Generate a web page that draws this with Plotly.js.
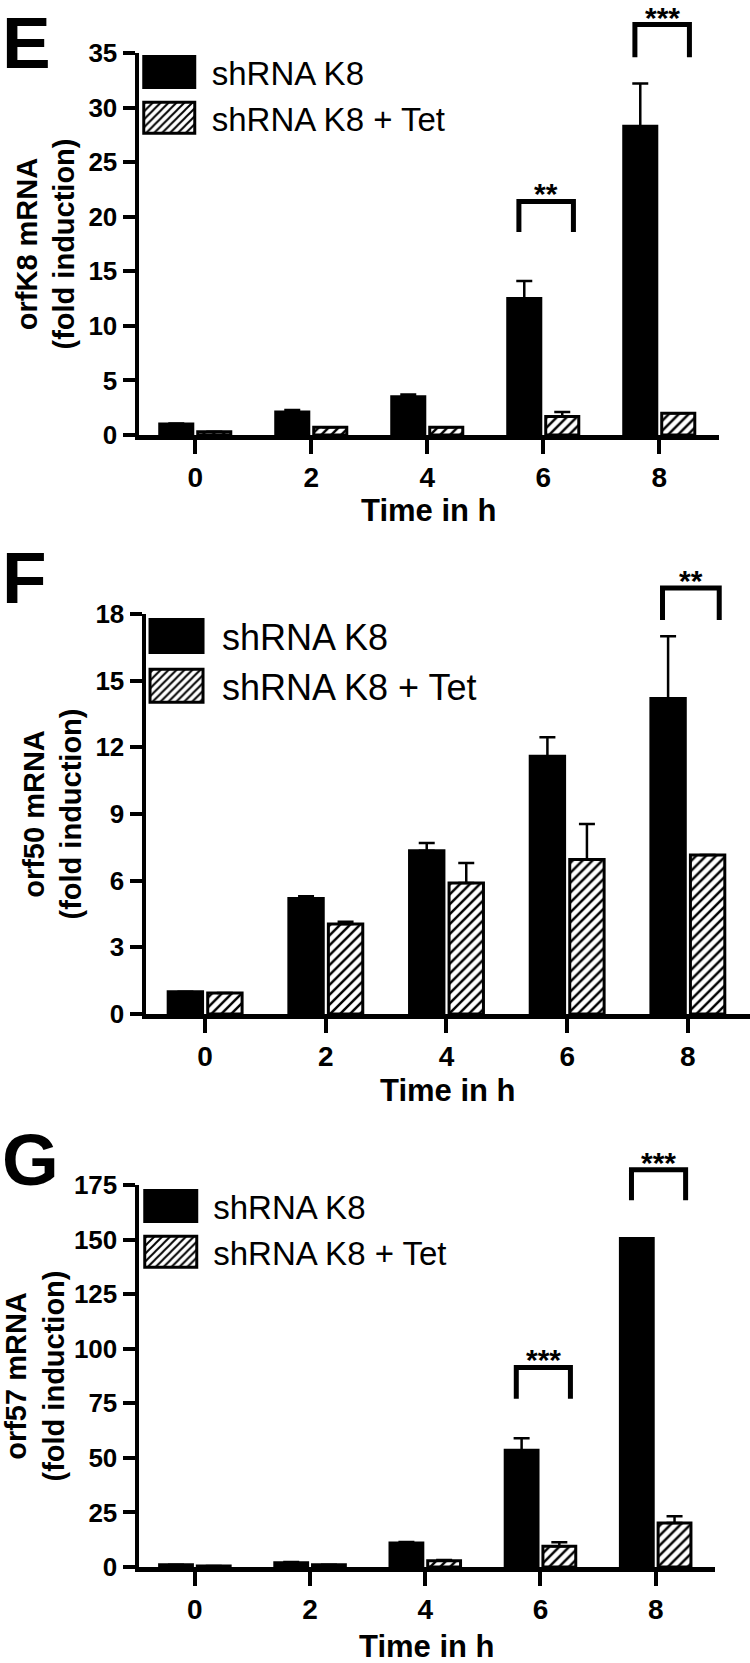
<!DOCTYPE html>
<html>
<head>
<meta charset="utf-8">
<script src="https://cdn.plot.ly/plotly-3.0.1.min.js"></script>
<style>html,body{margin:0;padding:0;background:#fff}#plot{width:750px;height:1663px}</style>
</head>
<body>
<div id="plot"></div>
<script>
// ---- data ----
var hours = [0, 2, 4, 6, 8];
var seriesNames = ['shRNA K8', 'shRNA K8 + Tet'];

// Panel E: orfK8 mRNA
var orfK8_ctrl = [1.0, 2.1, 3.5, 12.5, 28.3];
var orfK8_ctrl_err = [0.05, 0.2, 0.2, 1.6, 3.9];
var orfK8_tet = [0.3, 0.7, 0.7, 1.7, 2.0];
var orfK8_tet_err = [0, 0, 0, 0.4, 0];

// Panel F: orf50 mRNA
var orf50_ctrl = [1.0, 5.2, 7.35, 11.6, 14.2];
var orf50_ctrl_err = [0, 0.1, 0.35, 0.85, 2.8];
var orf50_tet = [0.95, 4.05, 5.9, 6.95, 7.15];
var orf50_tet_err = [0, 0.1, 0.9, 1.6, 0];

// Panel G: orf57 mRNA
var orf57_ctrl = [1.0, 2.0, 11.0, 53.5, 150.5];
var orf57_ctrl_err = [0, 0.3, 0.4, 5.5, 0];
var orf57_tet = [0.5, 1.0, 2.9, 9.5, 20.2];
var orf57_tet_err = [0, 0, 0.3, 1.8, 3.0];

// y-axis tick values
var yTicksE = [0, 5, 10, 15, 20, 25, 30, 35];
var yTicksF = [0, 3, 6, 9, 12, 15, 18];
var yTicksG = [0, 25, 50, 75, 100, 125, 150, 175];

// significance brackets (time point, bracket top, leg bottom, label)
var sigE_x = [6, 8], sigE_top = [21.4, 37.6], sigE_leg = [18.6, 34.6], sigE_lab = ['**', '***'];
var sigF_x = [8], sigF_top = [19.17], sigF_leg = [17.73], sigF_lab = ['**'];
var sigG_x = [6, 8], sigG_top = [91.4, 182], sigG_leg = [77.1, 168], sigG_lab = ['***', '***'];

// ---- styling ----
var FONT = 'Liberation Sans, Arial, Helvetica, sans-serif';
var hatch = {shape: '/', fgcolor: 'black', bgcolor: 'white', size: 7, solidity: 0.35};

function barPair(ctrl, ctrlErr, tet, tetErr, xa, ya, leg) {
  var zeros = hours.map(function () { return 0; });
  return [
    {type: 'bar', x: hours, y: ctrl, name: seriesNames[0], xaxis: xa, yaxis: ya, legend: leg,
     marker: {color: 'black', line: {color: 'black', width: 3}},
     error_y: {type: 'data', array: ctrlErr, arrayminus: zeros, symmetric: false, color: 'black', thickness: 2.5, width: 8}},
    {type: 'bar', x: hours, y: tet, name: seriesNames[1], xaxis: xa, yaxis: ya, legend: leg,
     marker: {color: 'white', line: {color: 'black', width: 3}, pattern: hatch},
     error_y: {type: 'data', array: tetErr, arrayminus: zeros, symmetric: false, color: 'black', thickness: 2.5, width: 8}}
  ];
}

var data = [].concat(
  barPair(orfK8_ctrl, orfK8_ctrl_err, orfK8_tet, orfK8_tet_err, 'x', 'y', 'legend'),
  barPair(orf50_ctrl, orf50_ctrl_err, orf50_tet, orf50_tet_err, 'x2', 'y2', 'legend2'),
  barPair(orf57_ctrl, orf57_ctrl_err, orf57_tet, orf57_tet_err, 'x3', 'y3', 'legend3')
);

function xAxis(domain, range, anchor) {
  return {domain: domain, range: range, anchor: anchor, tickvals: hours,
    showline: true, linecolor: 'black', linewidth: 4.5, ticks: 'outside', ticklen: 14, tickwidth: 4, tickcolor: 'black',
    showgrid: false, zeroline: false, fixedrange: true,
    tickfont: {family: FONT, size: 28, color: 'black', weight: 'bold'}};
}
function yAxis(domain, range, ticks, anchor, title) {
  return {domain: domain, range: range, anchor: anchor, tickvals: ticks,
    showline: true, linecolor: 'black', linewidth: 4.5, ticks: 'outside', ticklen: 12, tickwidth: 4, tickcolor: 'black',
    showgrid: false, zeroline: false, fixedrange: true,
    tickfont: {family: FONT, size: 26, color: 'black', weight: 'bold'},
    title: {text: title, font: {family: FONT, size: 29, color: 'black', weight: 'bold'}, standoff: 6}};
}

var shapes = [], annotations = [];
function addSig(xs, tops, legs, labs, xa, ya, yMax) {
  for (var i = 0; i < xs.length; i++) {
    var x0 = xs[i] - 0.42, x1 = xs[i] + 0.52;
    shapes.push({type: 'path', xref: xa, yref: ya + ' domain',
      path: 'M' + x0 + ',' + (legs[i] / yMax) + ' L' + x0 + ',' + (tops[i] / yMax) + ' L' + x1 + ',' + (tops[i] / yMax) + ' L' + x1 + ',' + (legs[i] / yMax),
      line: {color: 'black', width: 5}});
    annotations.push({xref: xa, yref: ya + ' domain', x: (x0 + x1) / 2, y: tops[i] / yMax, text: labs[i], showarrow: false,
      yanchor: 'bottom', yshift: -11, font: {family: FONT, size: 30, color: 'black', weight: 'bold'}});
  }
}
addSig(sigE_x, sigE_top, sigE_leg, sigE_lab, 'x', 'y', 35);
addSig(sigF_x, sigF_top, sigF_leg, sigF_lab, 'x2', 'y2', 18);
addSig(sigG_x, sigG_top, sigG_leg, sigG_lab, 'x3', 'y3', 175);

// x-axis titles
var xTitle = 'Time in h';
var xTitleAxes = ['x', 'x2', 'x3'], xTitleShift = [-56, -57, -60];
for (var j = 0; j < 3; j++) {
  var ax = xTitleAxes[j], yax = ax.replace('x', 'y');
  annotations.push({xref: ax + ' domain', yref: yax + ' domain', x: 0.5, y: 0, xanchor: 'center', yanchor: 'top',
    yshift: xTitleShift[j], text: xTitle, showarrow: false, font: {family: FONT, size: 31, color: 'black', weight: 'bold'}});
}

var panelLetters = ['E', 'F', 'G'];
var letterY = [1, 1 - 535 / 1663, 1 - 1117 / 1663];
for (var k = 0; k < 3; k++) {
  annotations.push({xref: 'paper', yref: 'paper', x: 0, y: letterY[k], xanchor: 'left', yanchor: 'top',
    text: panelLetters[k], showarrow: false, font: {family: FONT, size: 73, color: 'black', weight: 'bold'}});
}

function legendCfg(x, y, size, iw) {
  return {x: x, y: y, xanchor: 'left', yanchor: 'top', bgcolor: 'rgba(0,0,0,0)', borderwidth: 0,
    itemwidth: iw, traceorder: 'normal', font: {family: FONT, size: size, color: 'black'}};
}

var layout = {
  width: 750, height: 1663,
  margin: {l: 0, r: 0, t: 0, b: 0},
  paper_bgcolor: 'white', plot_bgcolor: 'white',
  font: {family: FONT, color: 'black'},
  barmode: 'group', bargap: 0.345, bargroupgap: 0.13,
  showlegend: true,
  xaxis: xAxis([139 / 750, 719 / 750], [-0.97, 9.03], 'y'),
  yaxis: yAxis([1 - 435 / 1663, 1 - 53 / 1663], [0, 35], yTicksE, 'x', 'orfK8 mRNA<br>(fold induction)'),
  xaxis2: xAxis([146 / 750, 1.0], [-0.98, 9.03], 'y2'),
  yaxis2: yAxis([1 - 1014 / 1663, 1 - 614 / 1663], [0, 18], yTicksF, 'x2', 'orf50 mRNA<br>(fold induction)'),
  xaxis3: xAxis([139 / 750, 715 / 750], [-0.97, 9.03], 'y3'),
  yaxis3: yAxis([1 - 1567 / 1663, 1 - 1185 / 1663], [0, 175], yTicksG, 'x3', 'orf57 mRNA<br>(fold induction)'),
  legend: legendCfg(0.169, 1 - 44 / 1663, 33, 75),
  legend2: legendCfg(0.1747, 1 - 606 / 1663, 36, 81),
  legend3: legendCfg(0.171, 1 - 1178 / 1663, 33, 75),
  shapes: shapes,
  annotations: annotations
};

var gd = document.getElementById('plot');
Plotly.newPlot(gd, data, layout, {staticPlot: true, displayModeBar: false}).then(function () {
  gd.querySelectorAll('.legend .legendpoints path').forEach(function (p) {
    p.setAttribute('d', 'M25.5,15.5H-25.5V-15.5H25.5Z');
  });
  gd.querySelectorAll('.legend2 .legendpoints path').forEach(function (p) {
    p.setAttribute('d', 'M26.5,16.5H-26.5V-16.5H26.5Z');
  });
  gd.querySelectorAll('.legend3 .legendpoints path').forEach(function (p) {
    p.setAttribute('d', 'M26,15.5H-26V-15.5H26Z');
  });
});
</script>
</body>
</html>
